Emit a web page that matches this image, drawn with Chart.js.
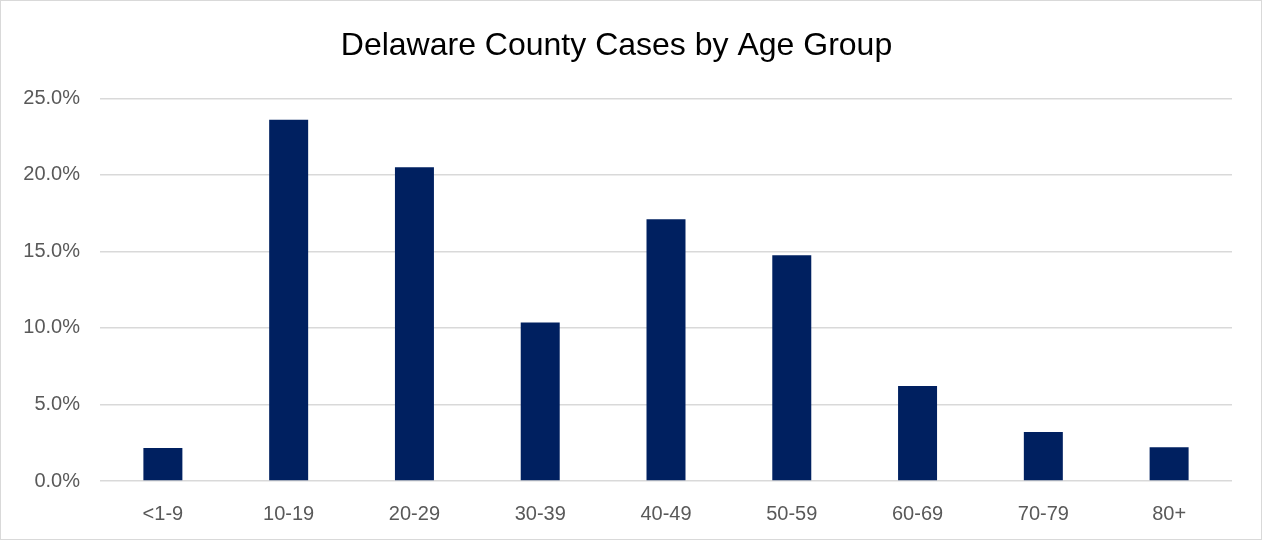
<!DOCTYPE html>
<html>
<head>
<meta charset="utf-8">
<script src="https://cdn.jsdelivr.net/npm/chart.js@4"></script>
<style>
  html, body { margin: 0; padding: 0; background: #fff; }
  #wrap { width: 1262px; height: 540px; box-sizing: border-box; border: 1px solid #d9d9d9; }
  canvas { display: block; }
</style>
</head>
<body>
<div id="wrap"><canvas id="chart" width="1260" height="538"></canvas></div>
<script>
const chartTitle = "Delaware County Cases by Age Group";
const ageGroups = ["<1-9", "10-19", "20-29", "30-39", "40-49", "50-59", "60-69", "70-79", "80+"];
const casePercents = [2.15, 23.6, 20.5, 10.35, 17.1, 14.75, 6.2, 3.2, 2.2];

const FONT = "'Liberation Sans', Arial, sans-serif";

new Chart(document.getElementById("chart"), {
  type: "bar",
  data: {
    labels: ageGroups,
    datasets: [
      {
        label: "Cases",
        data: casePercents,
        backgroundColor: "#002060",
        barPercentage: 1,
        categoryPercentage: 0.31,
      },
    ],
  },
  options: {
    responsive: false,
    animation: false,
    layout: { padding: { left: 0, right: 29, top: 0, bottom: 0 } },
    plugins: {
      legend: { display: false },
      tooltip: { enabled: false },
      title: {
        display: true,
        text: chartTitle,
        color: "#000",
        font: { family: FONT, size: 32, weight: "normal" },
        padding: { top: 26, bottom: 33 },
      },
    },
    scales: {
      y: {
        min: 0,
        max: 25,
        ticks: {
          stepSize: 5,
          color: "#595959",
          font: { family: FONT, size: 20 },
          padding: 20,
          callback: (v) => v.toFixed(1) + "%",
        },
        grid: { color: "#d9d9d9", lineWidth: 1.5, drawTicks: false },
        border: { display: false },
        afterFit: (s) => { s.width = 99; },
      },
      x: {
        ticks: { color: "#595959", font: { family: FONT, size: 20 }, padding: 13 },
        grid: { display: false },
        border: { display: false },
        afterFit: (s) => { s.height = 58; },
      },
    },
  },
});
</script>
</body>
</html>
